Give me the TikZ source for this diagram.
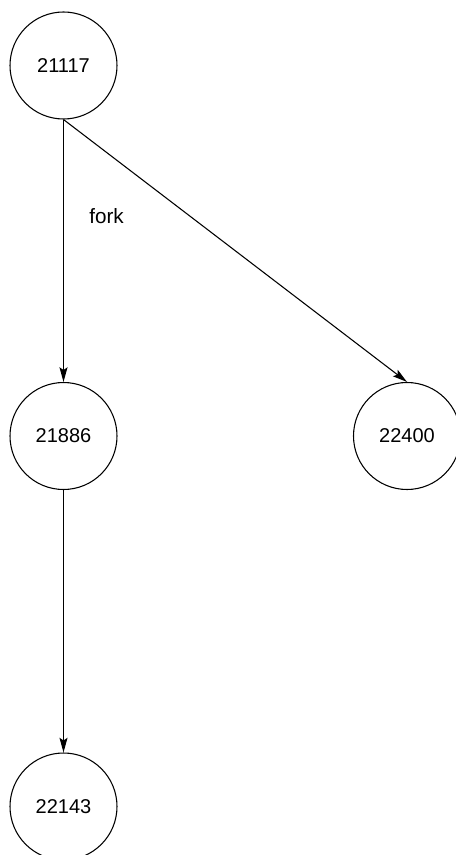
\documentclass[tikz,border=0pt]{standalone}
\usepackage{fontspec}
\setmainfont{Liberation Sans}
\usetikzlibrary{arrows.meta}
\begin{document}
\begin{tikzpicture}[x=0.75pt,y=-0.75pt,
  state/.style={circle,draw,line width=0.8pt,inner sep=0pt,minimum size=80.25pt,font=\fontsize{15}{17}\selectfont},
  edge/.style={draw,line width=0.8pt,-{Stealth[length=11pt,width=6pt,inset=2pt]}},
  lbl/.style={font=\fontsize{15.5}{17}\selectfont}]
\useasboundingbox (0,0) rectangle (455,855);
\node[state] (a) at (63.5,65.5) {21117};
\node[state] (b) at (63.5,436) {21886};
\node[state] (c) at (407,436) {22400};
\node[state] (d) at (63.5,806.5) {22143};
\draw[edge] (a) -- (b);
\draw[edge] (a.south) -- (c.north);
\draw[edge] (b) -- (d);
\node[lbl] (f) at (106.5,216.5) {fork};
\end{tikzpicture}
\end{document}
